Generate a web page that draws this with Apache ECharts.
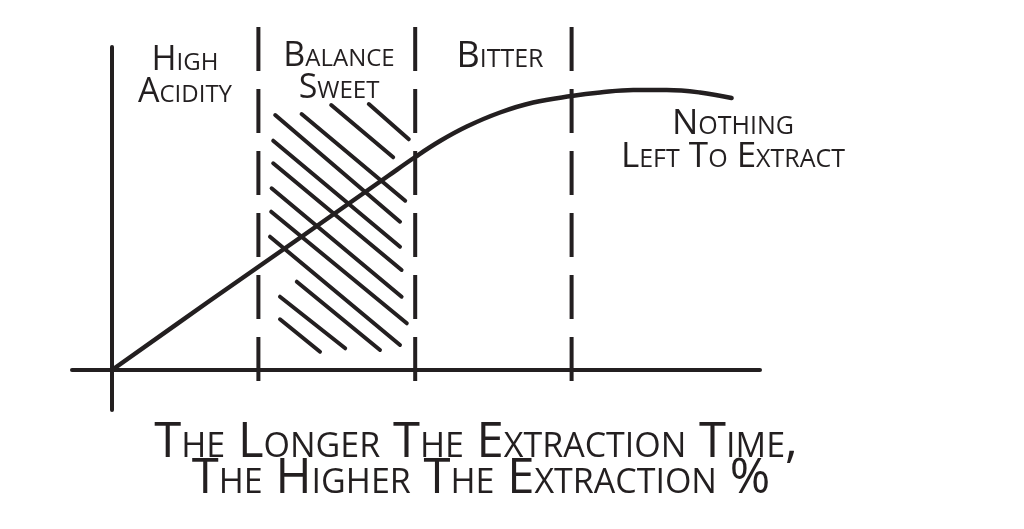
<!DOCTYPE html>
<html>
<head>
<meta charset="utf-8">
<script src="https://cdn.jsdelivr.net/npm/echarts@6/dist/echarts.min.js"></script>
<style>
html,body{margin:0;padding:0;background:#fff;}
#chart{width:1024px;height:529px;}
</style>
</head>
<body>
<div id="chart"></div>
<script>
// Extraction curve (x: extraction time, arbitrary units; y: extraction %)
const curveX = [0, 2.4, 4.8, 6.9, 7.58, 8.2, 8.87, 9.7, 10.53, 11.49, 12.2, 13.03, 13.87, 14.7, 15.49];
const curveY = [0, 6.8, 13.5, 19.4, 21.3, 22.9, 24.35, 25.75, 26.75, 27.4, 27.75, 28.0, 28.0, 27.75, 27.2];
// Zone boundaries (dashed vertical lines)
const zoneBounds = [3.66, 7.58, 11.49];
const zoneTop = 34.3;
const zoneBottom = -1.7;
// Zone labels
const zoneLabels = ['High\nAcidity', 'Balance\nSweet', 'Bitter'];
const endLabel = 'Nothing\nLeft To Extract';
const titleLines = ['The Longer The Extraction Time,', 'The Higher The Extraction %'];
// Hatching segments in the "sweet" zone: [x1, y1, x2, y2]
const hatchX1 = [6.42, 5.48, 4.74, 4.08, 4.03, 4.03, 3.99, 3.98, 3.95, 4.62, 4.2, 4.2];
const hatchY1 = [26.6, 26.5, 25.6, 25.5, 22.93, 20.67, 18.17, 15.83, 13.33, 8.83, 7.33, 5.07];
const hatchX2 = [7.42, 7.03, 7.33, 7.2, 7.2, 7.24, 7.24, 7.37, 7.2, 6.7, 5.83, 5.2];
const hatchY2 = [23.07, 21.27, 16.93, 14.83, 12.33, 10.0, 7.33, 4.67, 2.5, 2.0, 2.17, 1.83];

const INK = '#231f20';
const chart = echarts.init(document.getElementById('chart'));

const hatchData = hatchX1.map((x, i) => ({coords: [[x, hatchY1[i]], [hatchX2[i], hatchY2[i]]]}));
const dashSeries = zoneBounds.map(b => ({
  type: 'line', data: [[b, zoneTop], [b, zoneBottom]], showSymbol: false, silent: true, clip: false,
  lineStyle: {color: INK, width: 4, type: [44, 18], cap: 'butt'}, z: 3
}));

const FONT_FAM = '"Liberation Sans Narrow", "Open Sans", sans-serif';
function lab(text, x, y, size, align) {
  return {type: 'text', x: x, y: y, style: {text: text, font: 'small-caps ' + size + 'px ' + FONT_FAM,
    fill: INK, textAlign: align || 'center', textVerticalAlign: 'top', lineHeight: size * 0.95}};
}

chart.setOption({
  animation: false,
  backgroundColor: '#fff',
  grid: {left: 72, right: 264, top: 47, bottom: 119},
  xAxis: {type: 'value', min: -1, max: 16.2, axisLine: {show: true, onZero: true, lineStyle: {color: INK, width: 4}},
    axisTick: {show: false}, axisLabel: {show: false}, splitLine: {show: false}},
  yAxis: {type: 'value', min: -4, max: 32.3, axisLine: {show: true, onZero: true, lineStyle: {color: INK, width: 4}},
    axisTick: {show: false}, axisLabel: {show: false}, splitLine: {show: false}},
  series: [
    ...dashSeries,
    {type: 'lines', coordinateSystem: 'cartesian2d', data: hatchData, silent: true,
      lineStyle: {color: INK, width: 4, opacity: 1, cap: 'round'}, z: 4},
    {type: 'line', data: curveX.map((x, i) => [x, curveY[i]]), smooth: 0.4,
      showSymbol: false, clip: false, lineStyle: {color: INK, width: 4.5, cap: 'round', join: 'round'}, z: 5}
  ],
  graphic: [
    lab(zoneLabels[0], 185, 44, 34),
    lab(zoneLabels[1], 339, 40, 34),
    lab(zoneLabels[2], 500, 40, 36),
    lab(endLabel, 733, 107, 35),
    lab(titleLines[0], 476, 420, 49),
    lab(titleLines[1], 481, 456, 49)
  ]
});
</script>
</body>
</html>
